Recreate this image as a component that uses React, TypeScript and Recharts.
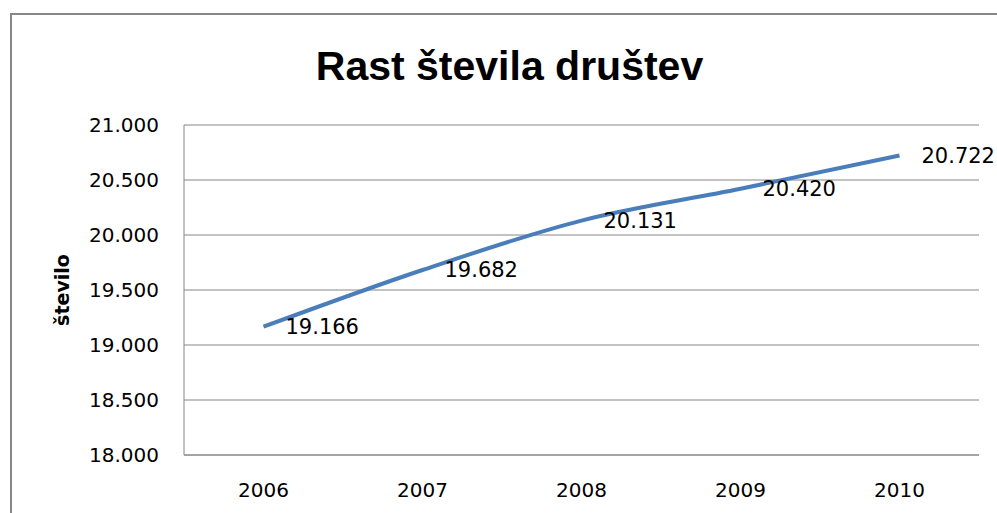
import React from 'react';
import { LineChart, Line, XAxis, YAxis, CartesianGrid, LabelList, Label } from 'recharts';

const years = ['2006', '2007', '2008', '2009', '2010'];
const counts = [19166, 19682, 20131, 20420, 20722];
const yTicks = [18000, 18500, 19000, 19500, 20000, 20500, 21000];
const title = 'Rast števila društev';
const yTitle = 'število';

const data = years.map((y, i) => ({ year: y, value: counts[i] }));

const fmt = (n: number) => {
  const s = Math.round(n).toString();
  return s.replace(/\B(?=(\d{3})+(?!\d))/g, '.');
};

const GRID = '#868686';
const LINE = '#4A7EBB';

const YTitle = (props: any) => {
  const vb = props.viewBox || {};
  const cy = vb.y + vb.height / 2;
  const cx = 62;
  return (
    <text
      x={cx}
      y={cy}
      transform={`rotate(-90, ${cx}, ${cy})`}
      textAnchor="middle"
      dominantBaseline="central"
      fontFamily="DejaVu Sans"
      fontWeight="bold"
      fontSize={19}
      fill="#000"
    >
      {yTitle}
    </text>
  );
};

const tickStyle = { fill: '#000', fontFamily: 'DejaVu Sans', fontSize: 20 };

export default function App() {
  return (
    <div style={{ position: 'absolute', left: 0, top: 0, width: 997, height: 513, overflow: 'hidden', background: '#fff' }}>
      <div style={{ position: 'absolute', left: 10, top: 13, width: 1100, height: 700, border: '2px solid #878787', boxSizing: 'border-box' }} />
      <svg style={{ position: 'absolute', left: 0, top: 0 }} width={997} height={513}>
        <text x={509.5} y={80} textAnchor="middle" fontFamily="Liberation Sans" fontWeight="bold" fontSize={41} fill="#000">
          {title}
        </text>
      </svg>
      <div style={{ position: 'absolute', left: 0, top: 0 }}>
        <LineChart width={997} height={513} data={data} margin={{ top: 125, right: 18, bottom: 0, left: 0 }}>
          <CartesianGrid vertical={false} stroke={GRID} strokeWidth={1} />
          <XAxis
            dataKey="year"
            height={58}
            padding={{ left: 79.5, right: 79.5 }}
            tickLine={false}
            tickSize={0}
            tickMargin={28}
            stroke={GRID}
            tick={tickStyle}
          />
          <YAxis
            width={184}
            domain={[18000, 21000]}
            ticks={yTicks}
            tickFormatter={fmt}
            tickLine={false}
            tickSize={0}
            tickMargin={25}
            stroke={GRID}
            tick={tickStyle}
          >
            <Label content={<YTitle />} />
          </YAxis>
          <Line
            type="monotone"
            dataKey="value"
            stroke={LINE}
            strokeWidth={4}
            dot={false}
            activeDot={false}
            isAnimationActive={false}
          >
            <LabelList
              dataKey="value"
              position="right"
              offset={22}
              formatter={(v: any) => fmt(Number(v))}
              style={{ fill: '#000', fontFamily: 'DejaVu Sans', fontSize: 21 }}
            />
          </Line>
        </LineChart>
      </div>
    </div>
  );
}
